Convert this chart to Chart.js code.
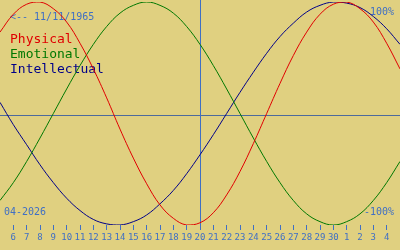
<!DOCTYPE html>
<html>
<head>
<meta charset="utf-8">
<script src="https://cdn.jsdelivr.net/npm/chart.js@4"></script>
<style>
    html, body { margin: 0; padding: 0; background: #e0d080; }
    #wrap { width: 400px; height: 250px; }
</style>
</head>
<body>
<div id="wrap"><canvas id="bio"></canvas></div>
<script>
// day labels, one per day from 5 Apr to 5 May (first and last are off-axis)
let dayLabels = ['5', '6', '7', '8', '9', '10', '11', '12', '13', '14', '15', '16', '17', '18',
    '19', '20', '21', '22', '23', '24', '25', '26', '27', '28', '29', '30',
    '1', '2', '3', '4', '5'];
let physical = [0.73, 0.89, 0.98, 1.00, 0.94, 0.82, 0.63, 0.40, 0.14, -0.14, -0.40, -0.63, -0.82,
    -0.94, -1.00, -0.98, -0.89, -0.73, -0.52, -0.27, 0.00, 0.27, 0.52, 0.73, 0.89, 0.98, 1.00,
    0.94, 0.82, 0.63, 0.40];
let emotional = [-0.78, -0.62, -0.43, -0.22, 0.00, 0.22, 0.43, 0.62, 0.78, 0.90, 0.97, 1.00, 0.97,
    0.90, 0.78, 0.62, 0.43, 0.22, 0.00, -0.22, -0.43, -0.62, -0.78, -0.90, -0.97, -1.00, -0.97,
    -0.90, -0.78, -0.62, -0.43];
let intellectual = [0.10, -0.10, -0.28, -0.46, -0.62, -0.76, -0.87, -0.95, -0.99, -1.00, -0.97,
    -0.91, -0.81, -0.69, -0.54, -0.37, -0.19, 0.00, 0.19, 0.37, 0.54, 0.69, 0.81, 0.91, 0.97,
    1.00, 0.99, 0.95, 0.87, 0.76, 0.62];
let todayIndex = 15;   // day 20
let birthText = '<-- 11/11/1965';
let monthText = '04-2026';

const blue = '#3f6fc4';
const mono = '"DejaVu Sans Mono", monospace';

const background = {
    id: 'background',
    beforeDraw(chart) {
        const ctx = chart.ctx;
        ctx.save();
        ctx.fillStyle = '#e0d080';
        ctx.fillRect(0, 0, chart.width, chart.height);
        ctx.restore();
    }
};

const overlay = {
    id: 'overlay',
    beforeDatasetsDraw(chart) {
        const ctx = chart.ctx;
        const x = chart.scales.x;
        const y = chart.scales.y;
        const area = chart.chartArea;
        ctx.save();
        ctx.lineWidth = 1;

        // zero line
        ctx.strokeStyle = '#4d6a9c';
        const y0 = Math.round(y.getPixelForValue(0)) + 1.5;
        ctx.beginPath();
        ctx.moveTo(0, y0);
        ctx.lineTo(chart.width, y0);
        ctx.stroke();

        // today
        ctx.strokeStyle = blue;
        const xt = Math.round(x.getPixelForValue(todayIndex)) + 0.5;
        ctx.beginPath();
        ctx.moveTo(xt, 0);
        ctx.lineTo(xt, area.bottom);
        ctx.stroke();

        // texts
        ctx.textBaseline = 'alphabetic';
        ctx.fillStyle = blue;
        ctx.font = '10px ' + mono;
        ctx.textAlign = 'left';
        ctx.fillText(birthText, 10, 20);
        ctx.fillText(monthText, 4, 215);
        ctx.textAlign = 'right';
        ctx.fillText('100%', 394, 15);
        ctx.fillText('-100%', 394, 215);

        ctx.textAlign = 'left';
        ctx.font = '13px ' + mono;
        chart.data.datasets.forEach((ds, i) => {
            ctx.fillStyle = ds.borderColor;
            ctx.fillText(ds.label, 10, 43 + i * 15);
        });
        ctx.restore();
    }
};

new Chart(document.getElementById('bio'), {
    type: 'line',
    data: {
        labels: dayLabels,
        datasets: [
            { label: 'Physical', data: physical, borderColor: '#e00000' },
            { label: 'Emotional', data: emotional, borderColor: '#007800' },
            { label: 'Intellectual', data: intellectual, borderColor: '#000088' }
        ]
    },
    options: {
        responsive: true,
        maintainAspectRatio: false,
        animation: false,
        events: [],
        layout: { padding: { top: 2, left: 0, right: 0, bottom: 0 } },
        elements: {
            line: { borderWidth: 1, tension: 0.4, fill: false },
            point: { radius: 0 }
        },
        plugins: {
            legend: { display: false },
            tooltip: { enabled: false }
        },
        scales: {
            x: {
                offset: false,
                border: { display: false },
                grid: { drawOnChartArea: false, color: blue, tickLength: 5 },
                ticks: {
                    color: blue,
                    font: { family: mono, size: 9 },
                    padding: 2,
                    autoSkip: false,
                    maxRotation: 0
                },
                afterBuildTicks(scale) {
                    scale.ticks = scale.ticks.filter(t => t.value > 0 && t.value < dayLabels.length - 1);
                },
                afterFit(scale) {
                    scale.height = 25;
                }
            },
            y: { display: false, min: -1, max: 1 }
        }
    },
    plugins: [background, overlay]
});
</script>
</body>
</html>
